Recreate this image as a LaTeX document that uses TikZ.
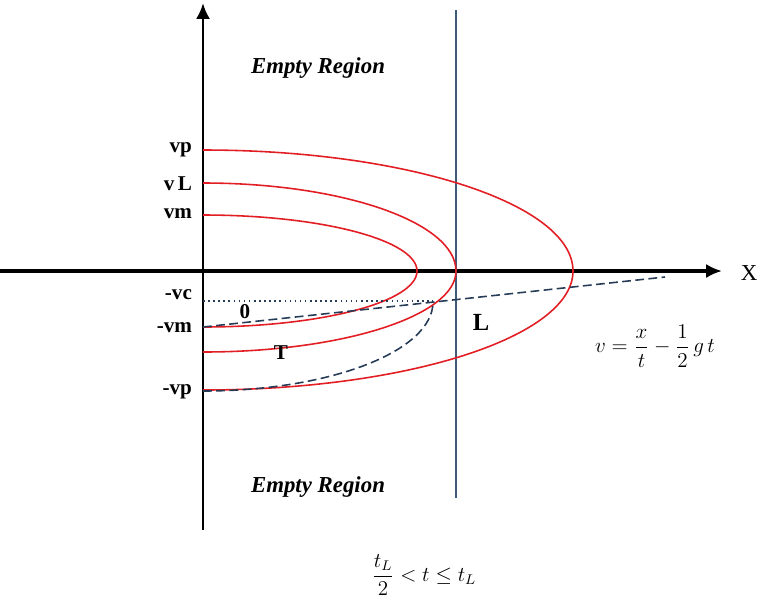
\documentclass[tikz,border=0pt]{standalone}
\usepackage{amsmath}
\usepackage{fontspec}
\setmainfont{Liberation Serif}
\usetikzlibrary{arrows.meta}
\definecolor{curvered}{RGB}{226,30,36}
\definecolor{dashblue}{RGB}{38,60,86}
\definecolor{lineblue}{RGB}{62,92,122}

\begin{document}
\begin{tikzpicture}[x=0.02cm, y=-0.02cm,
    vlabel/.style={font=\bfseries\fontsize{12}{14}\selectfont, anchor=east, inner sep=1pt},
    orbit/.style={curvered, line width=0.9pt},
    guide/.style={dashblue, line width=0.9pt, dash pattern=on 5pt off 2.5pt}]
    \useasboundingbox (0,0) rectangle (758,603);

    % Axes
    \draw[line width=2.2pt, -{Latex[length=9pt,width=8pt]}] (0,271) -- (722,271);
    \draw[line width=1.7pt, -{Latex[length=9pt,width=8pt]}] (203,530) -- (203,3);
    \node[font=\fontsize{13}{15}\selectfont] (xlab) at (749,273) {X};

    % Wall at L
    \draw[lineblue, line width=0.6pt] (456,10) -- (456,498);
    \node[font=\bfseries\fontsize{14}{16}\selectfont] (wall) at (481,322) {L};

    % Orbits
    \draw[orbit] (203,150) arc[start angle=-90, end angle=0, x radius=370, y radius=121]
                           arc[start angle=0, end angle=90, x radius=370, y radius=119];
    \draw[orbit] (203,183) arc[start angle=-90, end angle=0, x radius=253, y radius=88]
                           arc[start angle=0, end angle=90, x radius=253, y radius=81];
    \draw[orbit] (203,215) arc[start angle=-90, end angle=0, x radius=214, y radius=56]
                           arc[start angle=0, end angle=90, x radius=214, y radius=56];

    % Boundary lines
    \draw[dashblue, line width=0.9pt, dotted] (203,301) -- (433,301);
    \draw[guide] (203,327) -- (665,277);
    \draw[guide] (203,391) arc[start angle=90, end angle=0, x radius=230, y radius=89];

    % Velocity labels
    \node[vlabel] (vp) at (194,150) {vp};
    \node[vlabel] (vl) at (194,184) {v\,L};
    \node[vlabel] (vm) at (194,214) {vm};
    \node[vlabel] (nvc) at (194,295) {-vc};
    \node[vlabel] (nvm) at (194,328) {-vm};
    \node[vlabel] (nvp) at (194,392) {-vp};
    \node[font=\bfseries\fontsize{12}{14}\selectfont] (zero) at (245,312) {0};
    \node[font=\bfseries\fontsize{12}{14}\selectfont] (tee) at (281,353) {T};

    % Regions and formulas
    \node[font=\bfseries\itshape\fontsize{13}{15}\selectfont] (top) at (318,68) {Empty Region};
    \node[font=\bfseries\itshape\fontsize{13}{15}\selectfont] (bottom) at (318,487) {Empty Region};
    \node[font=\fontsize{12}{14}\selectfont] (line) at (655,346) {$v=\dfrac{x}{t}-\dfrac{1}{2}\,g\,t$};
    \node[font=\fontsize{12}{14}\selectfont] (range) at (424,575) {$\dfrac{t_L}{2} < t \le t_L$};
\end{tikzpicture}
\end{document}
